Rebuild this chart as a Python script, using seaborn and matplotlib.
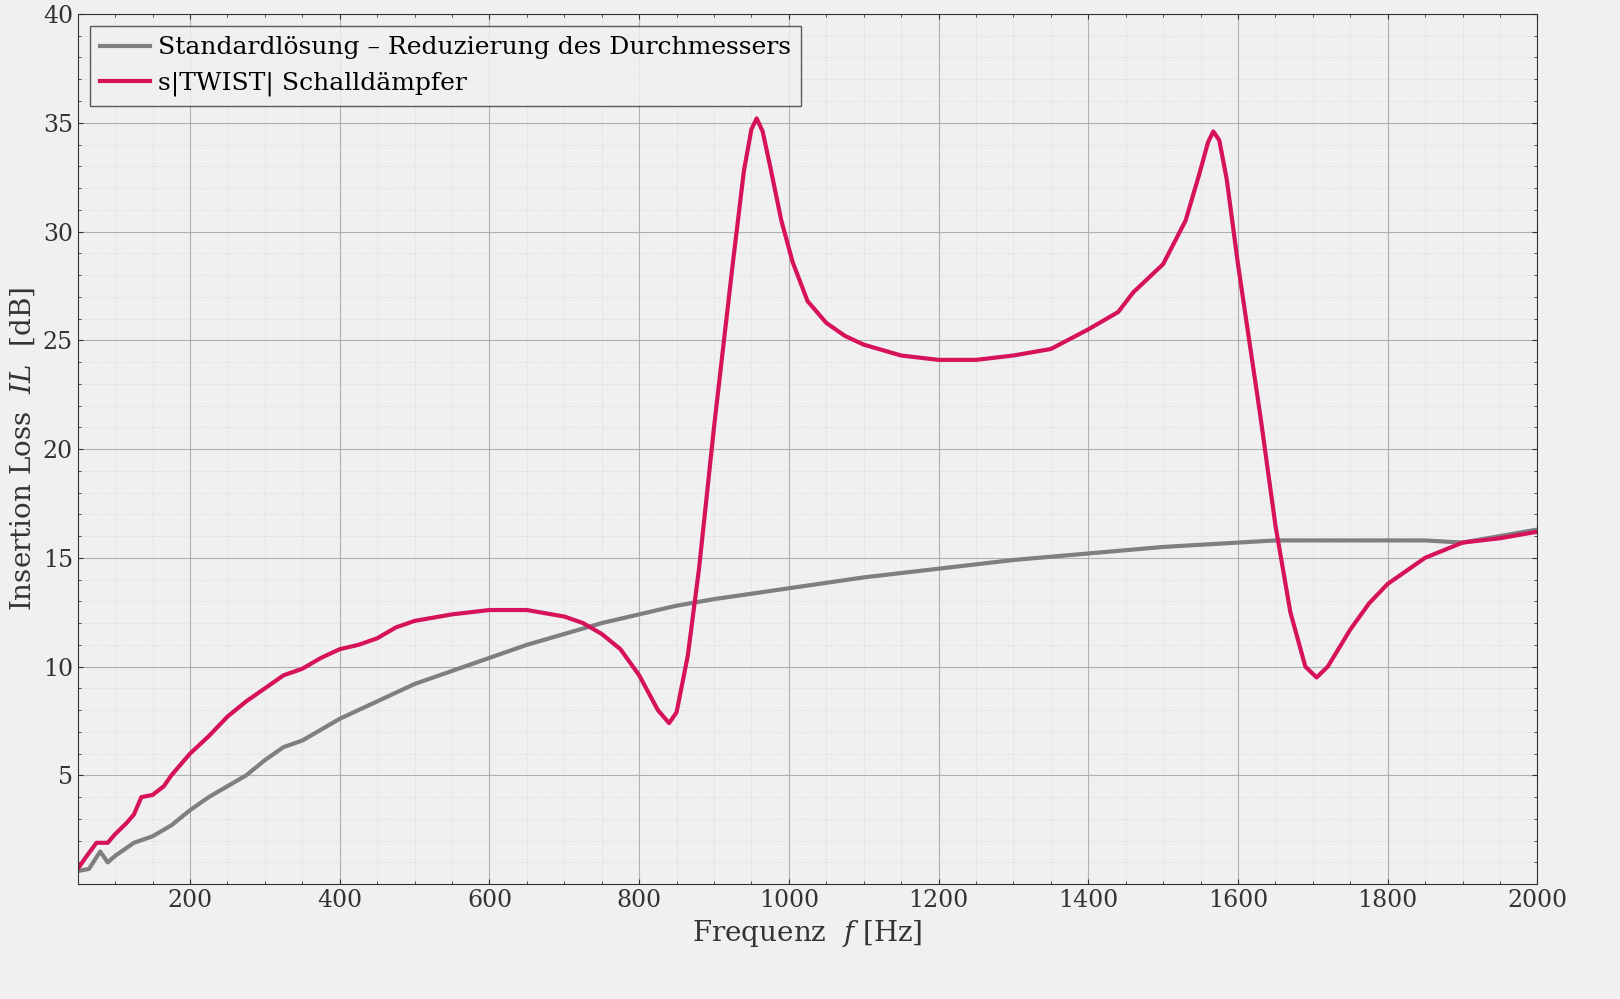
import numpy as np
import pandas as pd
import seaborn as sns
import matplotlib.pyplot as plt
from matplotlib.ticker import MultipleLocator

# Standard solution (grey)
std_f = [50, 65, 80, 90, 100, 125, 150, 175, 200, 225, 250, 275, 300, 325, 350, 375, 400,
         425, 450, 500, 550, 600, 650, 700, 750, 800, 850, 900, 1000, 1100, 1200, 1300,
         1400, 1500, 1600, 1650, 1700, 1850, 1900, 2000]
std_il = [0.6, 0.7, 1.5, 1.0, 1.3, 1.9, 2.2, 2.7, 3.4, 4.0, 4.5, 5.0, 5.7, 6.3, 6.6, 7.1, 7.6,
          8.0, 8.4, 9.2, 9.8, 10.4, 11.0, 11.5, 12.0, 12.4, 12.8, 13.1, 13.6, 14.1, 14.5, 14.9,
          15.2, 15.5, 15.7, 15.8, 15.8, 15.8, 15.7, 16.3]

# s|TWIST| silencer (red)
tw_f = [50, 60, 75, 90, 100, 115, 125, 135, 150, 165, 175, 200, 225, 250, 275, 300, 325, 350,
        375, 400, 425, 450, 475, 500, 550, 600, 650, 700, 725, 750, 775, 800, 825, 840, 850, 865,
        880, 900, 925, 940, 950, 957, 965, 975, 990, 1005, 1025, 1050, 1075, 1100, 1150, 1200,
        1250, 1300, 1350, 1400, 1440, 1460, 1500, 1530, 1548, 1560, 1567, 1575, 1585, 1600,
        1630, 1650, 1670, 1690, 1705, 1720, 1750, 1775, 1800, 1850, 1900, 1950, 2000]
tw_il = [0.7, 1.2, 1.9, 1.9, 2.3, 2.8, 3.2, 4.0, 4.1, 4.5, 5.0, 6.0, 6.8, 7.7, 8.4, 9.0, 9.6, 9.9,
         10.4, 10.8, 11.0, 11.3, 11.8, 12.1, 12.4, 12.6, 12.6, 12.3, 12.0, 11.5, 10.8, 9.6, 8.0,
         7.4, 7.9, 10.5, 14.5, 21.0, 28.5, 32.8, 34.7, 35.2, 34.6, 33.0, 30.5, 28.6, 26.8, 25.8,
         25.2, 24.8, 24.3, 24.1, 24.1, 24.3, 24.6, 25.5, 26.3, 27.2, 28.5, 30.5, 32.6, 34.1,
         34.6, 34.2, 32.4, 28.5, 21.5, 16.5, 12.5, 10.0, 9.5, 10.0, 11.7, 12.9, 13.8, 15.0,
         15.7, 15.9, 16.2]

std = pd.DataFrame({"f": std_f, "il": std_il})
tw = pd.DataFrame({"f": tw_f, "il": tw_il})

plt.rcParams["font.family"] = "DejaVu Serif"
plt.rcParams["mathtext.fontset"] = "dejavuserif"
fig = plt.figure(figsize=(16.2, 9.99), dpi=100, facecolor="#f0f0f0")
ax = fig.add_axes([0.048, 0.115, 0.901, 0.871])
ax.set_facecolor("#f0f0f0")

sns.lineplot(data=std, x="f", y="il", ax=ax, color="#7f7f7f", lw=3,
             label="Standardlösung – Reduzierung des Durchmessers")
sns.lineplot(data=tw, x="f", y="il", ax=ax, color="#d6135a", lw=3,
             label="s|TWIST| Schalldämpfer")

ax.set_xlim(50, 2000)
ax.set_ylim(0, 40)
ax.set_xticks(range(200, 2001, 200))
ax.set_yticks(range(5, 41, 5))
ax.xaxis.set_minor_locator(MultipleLocator(50))
ax.yaxis.set_minor_locator(MultipleLocator(1))
ax.grid(which="major", color="#b0b0b0", lw=0.8)
ax.grid(which="minor", color="#d0d0d0", lw=0.5, ls=":")
ax.tick_params(which="both", direction="in", top=True, right=True, labelsize=17, colors="#333333")
for s in ax.spines.values():
    s.set_color("#333333")
ax.set_xlabel("Frequenz  $f$ [Hz]", fontsize=20, color="#333333")
ax.set_ylabel("Insertion Loss  $IL$  [dB]", fontsize=20, color="#333333")
leg = ax.legend(loc="upper left", fontsize=18, frameon=True, fancybox=False,
                handlelength=2, borderaxespad=0.5, handletextpad=0.3)
leg.get_frame().set_facecolor("#f0f0f0")
leg.get_frame().set_edgecolor("#333333")
fig.savefig("out.png", dpi=100, facecolor=fig.get_facecolor())
